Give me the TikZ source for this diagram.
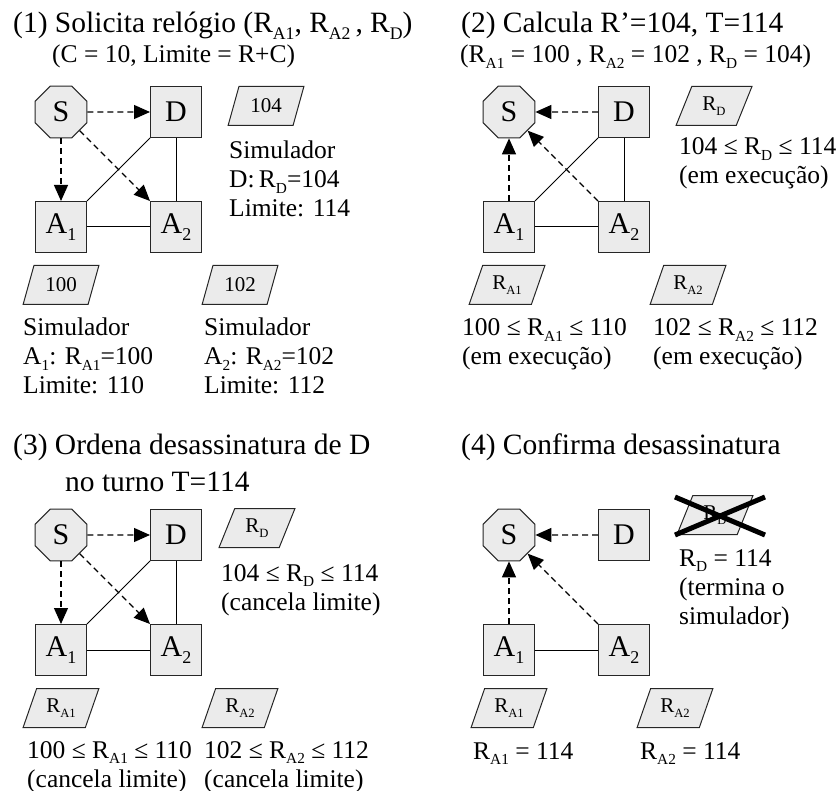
\documentclass[tikz,border=0pt]{standalone}
\usepackage{fontspec}
\setmainfont{Liberation Serif}
\usepackage{graphicx}
\usetikzlibrary{shapes.geometric,arrows.meta}
\definecolor{cell}{HTML}{EBEBEB}
\definecolor{edge}{HTML}{262626}
\newcommand{\sub}[1]{\raisebox{-0.22em}{\scalebox{0.6}{#1}}}
\newcommand{\tsize}{\fontsize{29.5}{37}\selectfont}
\newcommand{\bsize}{\fontsize{25.5}{29}\selectfont}
\newcommand{\psize}{\fontsize{21}{24}\selectfont}
\tikzset{
  site/.style={draw=edge,line width=1pt,fill=cell,minimum size=51pt,inner sep=0pt,font=\fontsize{30}{30}\selectfont},
  server/.style={site,regular polygon,regular polygon sides=8,minimum size=56pt},
  clock/.style={draw=edge,line width=1pt,fill=cell,trapezium,trapezium left angle=66,trapezium right angle=114,
    trapezium stretches=true,minimum width=76pt,minimum height=39pt,inner sep=0pt,font=\psize},
  msg/.style={line width=1.2pt,dash pattern=on 6pt off 4pt,-{Triangle[length=16pt,width=14pt]}},
  link/.style={line width=1pt},
  % base = baseline of the last line
  txt/.style={anchor=base west,inner sep=0pt,align=left,font=\bsize},
  head/.style={anchor=base west,inner sep=0pt,align=left,font=\tsize},
}
\begin{document}
\begin{tikzpicture}[x=1pt,y=-1pt]
\useasboundingbox (0,0) rectangle (838,791);
% (1) request
\node[head] (t1) at (13,33) {(1) Solicita relógio (R\sub{A1}, R\sub{A2}\,, R\sub{D})};
\node[txt] (c1) at (52,63) {(C = 10, Limite = R+C)};
\node[server] (S1) at (61,112) {S};
\node[site] (D1) at (176,112) {D};
\node[site] (A1a) at (61,227) {A\sub{1}};
\node[site] (A2a) at (176,227) {A\sub{2}};
\node[clock] (pD1) at (266,106) {104};
\node[txt] (sD1) at (229,217) {Simulador\\D:\,R\sub{D}=104\\Limite: 114};
\node[clock] (pA1a) at (61,285) {100};
\node[clock] (pA2a) at (240,285) {102};
\node[txt] (sA1a) at (23,394) {Simulador\\A\sub{1}: R\sub{A1}=100\\Limite: 110};
\node[txt] (sA2a) at (204,394) {Simulador\\A\sub{2}: R\sub{A2}=102\\Limite: 112};
\draw[msg] (S1) -- (D1);
\draw[msg] (S1) -- (A1a);
\draw[msg] (S1.-45) -- (A2a.north west);
\draw[link] (A1a.north east) -- (D1.south west);
\draw[link] (D1) -- (A2a);
\draw[link] (A1a) -- (A2a);
% (2) compute
\node[head] (t2) at (461,33) {(2) Calcula R’=104, T=114};
\node[txt] (c2) at (460,63) {(R\sub{A1} = 100 , R\sub{A2} = 102 , R\sub{D} = 104)};
\node[server] (S2) at (509,112) {S};
\node[site] (D2) at (624,112) {D};
\node[site] (A1b) at (509,227) {A\sub{1}};
\node[site] (A2b) at (624,227) {A\sub{2}};
\node[clock] (pD2) at (714,106) {R\sub{D}};
\node[txt] (sD2) at (679,184) {104 ≤ R\sub{D} ≤ 114\\(em execução)};
\node[clock] (pA1b) at (507,285) {R\sub{A1}};
\node[clock] (pA2b) at (688,285) {R\sub{A2}};
\node[txt] (sA1b) at (462,365) {100 ≤ R\sub{A1} ≤ 110\\(em execução)};
\node[txt] (sA2b) at (653,365) {102 ≤ R\sub{A2} ≤ 112\\(em execução)};
\draw[msg] (D2) -- (S2);
\draw[msg] (A1b) -- (S2);
\draw[msg] (A2b.north west) -- (S2.-45);
\draw[link] (A1b.north east) -- (D2.south west);
\draw[link] (D2) -- (A2b);
\draw[link] (A1b) -- (A2b);
% (3) order
\node[head] (t3) at (13,491) {(3) Ordena desassinatura de D\\\hspace*{52pt}no turno T=114};
\node[server] (S3) at (61,535) {S};
\node[site] (D3) at (176,535) {D};
\node[site] (A1c) at (61,650) {A\sub{1}};
\node[site] (A2c) at (176,650) {A\sub{2}};
\node[clock] (pD3) at (257,528) {R\sub{D}};
\node[txt] (sD3) at (221,610) {104 ≤ R\sub{D} ≤ 114\\(cancela limite)};
\node[clock] (pA1c) at (61,708) {R\sub{A1}};
\node[clock] (pA2c) at (240,708) {R\sub{A2}};
\node[txt] (sA1c) at (27,787) {100 ≤ R\sub{A1} ≤ 110\\(cancela limite)};
\node[txt] (sA2c) at (204,787) {102 ≤ R\sub{A2} ≤ 112\\(cancela limite)};
\draw[msg] (S3) -- (D3);
\draw[msg] (S3) -- (A1c);
\draw[msg] (S3.-45) -- (A2c.north west);
\draw[link] (A1c.north east) -- (D3.south west);
\draw[link] (D3) -- (A2c);
\draw[link] (A1c) -- (A2c);
% (4) confirm
\node[head] (t4) at (461,454) {(4) Confirma desassinatura};
\node[server] (S4) at (509,535) {S};
\node[site] (D4) at (624,535) {D};
\node[site] (A1d) at (509,650) {A\sub{1}};
\node[site] (A2d) at (624,650) {A\sub{2}};
\node[clock] (pD4) at (715,515) {R\sub{D}};
\draw[line width=5pt] ([shift={(-40,-18)}]pD4.center) -- ([shift={(50,20)}]pD4.center);
\draw[line width=5pt] ([shift={(-40,20)}]pD4.center) -- ([shift={(50,-18)}]pD4.center);
\node[txt] (sD4) at (679,624) {R\sub{D} = 114\\(termina o\\simulador)};
\node[clock] (pA1d) at (509,708) {R\sub{A1}};
\node[clock] (pA2d) at (675,708) {R\sub{A2}};
\node[txt] (sA1d) at (473,759) {R\sub{A1} = 114};
\node[txt] (sA2d) at (640,759) {R\sub{A2} = 114};
\draw[msg] (D4) -- (S4);
\draw[msg] (A1d) -- (S4);
\draw[msg] (A2d.north west) -- (S4.-45);
\draw[link] (A1d) -- (A2d);
\end{tikzpicture}
\end{document}
